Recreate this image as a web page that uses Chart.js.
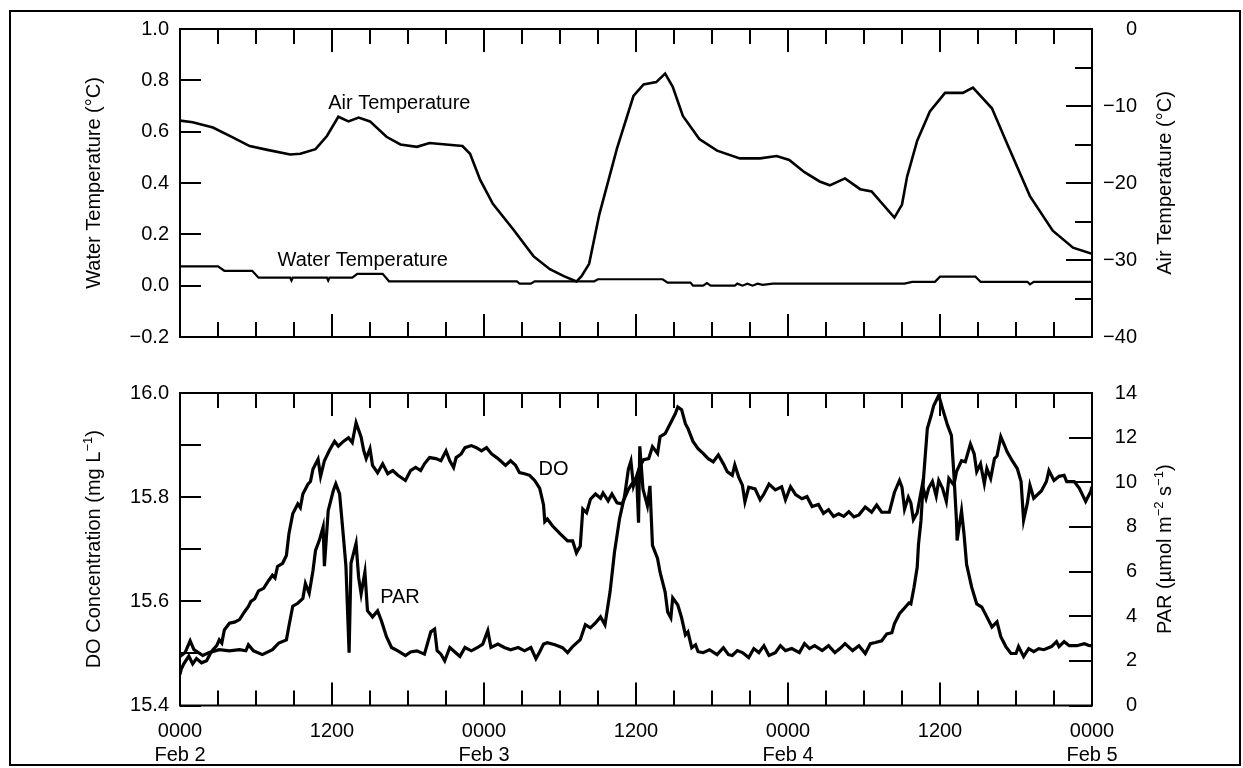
<!DOCTYPE html>
<html>
<head>
<meta charset="utf-8">
<script src="https://cdn.jsdelivr.net/npm/chart.js@4.4.1/dist/chart.umd.min.js"></script>
<style>
  body { margin: 0; background: #fff; }
  #frame { position: absolute; left: 9px; top: 10px; width: 1228px; height: 752px; border: 2px solid #000; }
  canvas { position: absolute; left: 0; }
  #tempChart { top: 0; }
  #doChart { top: 370px; }
</style>
</head>
<body>
<div id="frame"></div>
<canvas id="tempChart" width="1243" height="360"></canvas>
<canvas id="doChart" width="1243" height="398"></canvas>
<script>
// hours since 0000 Feb 2
const airHours = [0, 1, 2.6, 4.2, 5.5, 6.9, 8.7, 9.5, 10.7, 11.6, 12.5, 13.3, 14.1, 15, 16.3, 17.4, 18.7, 19.7, 21, 22.3, 22.9, 23.7, 24.7, 26.3, 27.9, 29.2, 30.3, 31.3, 31.7, 32.3, 33.1, 34.5, 35.8, 36.6, 37.6, 38.3, 38.9, 39.7, 41, 42.4, 44.2, 45.8, 47.1, 48.1, 49.3, 50.5, 51.3, 52.5, 53.7, 54.6, 56.4, 57, 57.4, 58.2, 59.2, 60.4, 61.8, 62.6, 64.1, 65.3, 67.1, 68.9, 70.5, 72];
const airTemp = [-11.9, -12.1, -12.8, -14.1, -15.2, -15.7, -16.3, -16.2, -15.6, -13.9, -11.4, -12.0, -11.5, -12.0, -14.0, -15.0, -15.3, -14.8, -15.0, -15.2, -16.2, -19.6, -22.7, -26.0, -29.5, -31.2, -32.1, -32.8, -32.1, -30.5, -24.1, -15.5, -8.7, -7.2, -6.9, -5.8, -7.5, -11.3, -14.3, -15.8, -16.8, -16.8, -16.5, -17.0, -18.6, -19.8, -20.3, -19.4, -20.8, -21.1, -24.5, -22.8, -19.2, -14.5, -10.7, -8.3, -8.3, -7.6, -10.3, -14.9, -21.7, -26.2, -28.4, -29.2];

const waterHours = [0, 3.0, 3.5, 5.7, 6.2, 8.7, 8.8, 8.9, 11.6, 11.7, 11.8, 13.6, 14.0, 16.0, 16.5, 26.6, 26.8, 27.7, 28.0, 32.7, 33.0, 38.1, 38.5, 40.3, 40.5, 41.3, 41.6, 41.9, 43.8, 44.0, 44.4, 44.8, 45.2, 45.6, 46.0, 46.8, 57.2, 57.8, 59.6, 60.0, 62.8, 63.0, 63.2, 66.9, 67.1, 67.4, 72];
const waterTemp = [0.075, 0.075, 0.058, 0.058, 0.031, 0.031, 0.02, 0.031, 0.031, 0.02, 0.031, 0.031, 0.046, 0.046, 0.017, 0.017, 0.008, 0.008, 0.017, 0.017, 0.025, 0.025, 0.012, 0.012, 0.0, 0.0, 0.01, 0.0, 0.0, 0.008, 0.0, 0.008, 0.0, 0.008, 0.003, 0.008, 0.008, 0.015, 0.015, 0.035, 0.035, 0.025, 0.015, 0.015, 0.005, 0.015, 0.015];

// [hour, mg/L]
const doReadings = [[0.0,15.46],[0.1,15.47],[0.3,15.48],[0.7,15.495],[1.0,15.48],[1.3,15.49],[1.7,15.482],[2.1,15.486],[2.4,15.5],[2.6,15.507],[2.9,15.515],[3.1,15.526],[3.3,15.52],[3.5,15.545],[3.9,15.558],[4.3,15.56],[4.7,15.565],[5.1,15.58],[5.4,15.59],[5.6,15.60],[5.9,15.605],[6.2,15.62],[6.6,15.625],[7.0,15.64],[7.3,15.65],[7.5,15.645],[7.7,15.667],[8.1,15.673],[8.4,15.688],[8.6,15.73],[8.9,15.768],[9.3,15.787],[9.5,15.78],[9.7,15.806],[10.1,15.825],[10.3,15.83],[10.5,15.854],[10.9,15.873],[11.1,15.84],[11.4,15.87],[11.8,15.89],[12.2,15.907],[12.5,15.898],[12.9,15.907],[13.3,15.914],[13.6,15.905],[13.9,15.943],[14.3,15.915],[14.5,15.89],[14.7,15.874],[15.0,15.893],[15.2,15.861],[15.6,15.847],[16.0,15.864],[16.4,15.845],[16.8,15.851],[17.2,15.842],[17.8,15.832],[18.2,15.851],[18.6,15.857],[19.0,15.851],[19.3,15.864],[19.7,15.876],[20.2,15.874],[20.6,15.87],[21.0,15.889],[21.3,15.87],[21.6,15.857],[21.8,15.876],[22.2,15.883],[22.5,15.895],[23.0,15.899],[23.4,15.895],[23.8,15.889],[24.2,15.895],[24.6,15.883],[25.0,15.876],[25.3,15.87],[25.7,15.861],[26.1,15.87],[26.5,15.861],[26.8,15.847],[27.2,15.845],[27.6,15.842],[28.0,15.832],[28.4,15.817],[28.7,15.785],[28.8,15.753],[29.0,15.758],[29.4,15.745],[30.0,15.73],[30.6,15.716],[31.0,15.716],[31.3,15.693],[31.6,15.706],[31.8,15.777],[32.1,15.77],[32.4,15.796],[32.8,15.806],[33.2,15.798],[33.4,15.808],[33.8,15.793],[34.1,15.806],[34.5,15.789],[34.9,15.787],[35.1,15.798],[35.4,15.815],[35.7,15.826],[36.1,15.836],[36.3,15.859],[36.6,15.872],[37.0,15.874],[37.3,15.897],[37.7,15.884],[37.9,15.916],[38.3,15.922],[38.7,15.941],[39.1,15.96],[39.3,15.973],[39.6,15.968],[39.9,15.941],[40.1,15.932],[40.5,15.907],[40.9,15.893],[41.3,15.884],[41.7,15.874],[42.1,15.868],[42.5,15.881],[42.9,15.864],[43.2,15.849],[43.6,15.842],[43.8,15.862],[44.1,15.839],[44.4,15.823],[44.6,15.791],[44.9,15.819],[45.4,15.816],[45.8,15.795],[46.1,15.806],[46.5,15.825],[47.0,15.814],[47.5,15.82],[47.8,15.795],[48.2,15.82],[48.6,15.805],[49.1,15.797],[49.5,15.801],[49.9,15.782],[50.4,15.786],[50.8,15.769],[51.2,15.776],[51.6,15.763],[52.0,15.768],[52.4,15.763],[52.8,15.772],[53.2,15.762],[53.6,15.766],[54.1,15.781],[54.6,15.771],[55.0,15.785],[55.4,15.771],[56.0,15.771],[56.4,15.809],[56.8,15.832],[57.0,15.819],[57.2,15.777],[57.5,15.8],[57.7,15.789],[57.9,15.757],[58.2,15.77],[58.6,15.823],[58.9,15.798],[59.1,15.817],[59.4,15.83],[59.7,15.802],[59.9,15.832],[60.2,15.817],[60.5,15.792],[60.7,15.836],[61.1,15.823],[61.3,15.849],[61.7,15.87],[62.0,15.868],[62.4,15.902],[62.7,15.883],[62.9,15.849],[63.2,15.864],[63.5,15.826],[63.7,15.855],[64.0,15.836],[64.3,15.874],[64.5,15.879],[64.8,15.916],[65.1,15.899],[65.3,15.887],[65.7,15.87],[66.1,15.855],[66.4,15.83],[66.6,15.756],[66.9,15.789],[67.1,15.823],[67.4,15.798],[68.0,15.812],[68.4,15.83],[68.6,15.851],[69.0,15.832],[69.4,15.84],[69.8,15.842],[70.0,15.83],[70.6,15.83],[71.0,15.817],[71.5,15.792],[71.9,15.811],[72.0,15.82]];

// [hour, umol m-2 s-1]
const parReadings = [[0.0,2.2],[0.4,2.37],[0.8,2.9],[1.1,2.5],[1.8,2.24],[2.3,2.37],[3.1,2.5],[3.9,2.45],[4.7,2.5],[5.2,2.45],[5.4,2.72],[5.8,2.45],[6.5,2.28],[7.3,2.5],[7.8,2.8],[8.4,2.94],[8.6,3.56],[8.9,4.45],[9.3,4.58],[9.7,4.8],[9.9,5.47],[10.2,5.03],[10.5,6.05],[10.7,6.95],[11.0,7.4],[11.3,8.0],[11.4,6.24],[11.7,8.73],[12.1,9.62],[12.3,9.93],[12.6,9.48],[12.9,7.57],[13.1,6.24],[13.35,2.37],[13.5,6.37],[13.9,7.26],[14.1,5.75],[14.3,5.0],[14.6,5.97],[14.8,4.25],[15.2,3.97],[15.6,4.24],[15.9,3.8],[16.3,3.08],[16.7,2.6],[17.2,2.45],[17.8,2.24],[18.2,2.4],[18.7,2.45],[19.3,2.3],[19.8,3.3],[20.1,3.42],[20.3,2.45],[20.6,2.3],[20.9,2.0],[21.3,2.6],[21.7,2.4],[22.1,2.2],[22.5,2.6],[23.0,2.45],[23.5,2.6],[23.9,2.75],[24.3,3.35],[24.55,2.6],[25.1,2.75],[25.6,2.6],[26.1,2.5],[26.7,2.6],[27.2,2.45],[27.7,2.6],[28.1,2.1],[28.4,2.41],[28.7,2.75],[29.0,2.81],[29.6,2.72],[30.2,2.59],[30.6,2.37],[31.0,2.64],[31.6,2.95],[32.0,3.62],[32.4,3.48],[32.8,3.7],[33.2,3.97],[33.55,3.62],[33.95,5.08],[34.3,6.86],[34.7,8.37],[35.1,9.39],[35.4,10.59],[35.6,10.95],[35.8,9.84],[36.05,10.28],[36.2,8.19],[36.3,11.61],[36.55,9.7],[36.9,8.95],[37.1,9.84],[37.3,7.17],[37.7,6.59],[37.9,5.97],[38.3,5.08],[38.5,4.19],[38.75,3.93],[38.9,4.82],[39.3,4.5],[39.6,3.93],[39.9,3.17],[40.1,3.3],[40.4,2.59],[40.7,2.72],[40.9,2.41],[41.3,2.37],[41.8,2.5],[42.4,2.28],[42.9,2.59],[43.3,2.28],[43.6,2.24],[44.0,2.46],[44.4,2.37],[44.9,2.15],[45.3,2.55],[45.7,2.37],[46.1,2.68],[46.5,2.24],[47.0,2.37],[47.4,2.68],[47.8,2.46],[48.3,2.55],[48.9,2.37],[49.3,2.77],[49.7,2.55],[50.1,2.68],[50.7,2.46],[51.2,2.68],[51.7,2.37],[52.1,2.55],[52.5,2.77],[53.1,2.46],[53.6,2.68],[54.1,2.33],[54.5,2.77],[54.9,2.82],[55.4,2.9],[55.8,3.21],[56.2,3.26],[56.4,3.66],[56.8,4.11],[57.2,4.37],[57.55,4.59],[57.7,4.55],[57.95,5.3],[58.2,6.19],[58.3,7.21],[58.5,8.28],[58.7,10.19],[59.0,12.41],[59.3,12.99],[59.5,13.43],[59.9,13.9],[60.2,13.3],[60.6,12.55],[60.9,12.1],[61.1,10.32],[61.3,8.28],[61.35,7.39],[61.7,8.72],[61.9,7.66],[62.1,6.32],[62.5,5.3],[62.9,4.55],[63.3,4.41],[63.7,3.97],[64.1,3.52],[64.5,3.75],[64.8,3.08],[65.2,2.64],[65.6,2.33],[66.0,2.33],[66.2,2.64],[66.6,2.19],[67.0,2.55],[67.4,2.41],[67.8,2.55],[68.2,2.5],[68.8,2.64],[69.2,2.86],[69.4,2.64],[69.8,2.86],[70.2,2.68],[70.8,2.68],[71.4,2.77],[71.8,2.68],[72.0,2.68]];

const xTickLabels = [["0000", "Feb 2"], "1200", ["0000", "Feb 3"], "1200", ["0000", "Feb 4"], "1200", ["0000", "Feb 5"]];

const FONT = "'Liberation Sans', Arial, Helvetica, sans-serif";
const INK = "#000";

function signed(v, digits) {
  const s = Math.abs(v).toFixed(digits);
  return (v < -1e-9 ? "\u2212" : "") + s;
}

function pairs(hours, values) {
  return hours.map((h, i) => ({ x: h, y: values[i] }));
}

// axis title with optional superscript pieces, reading bottom to top
function drawSideTitle(ctx, parts, cx, cy) {
  ctx.save();
  ctx.translate(cx, cy);
  ctx.rotate(-Math.PI / 2);
  ctx.fillStyle = INK;
  ctx.textBaseline = "middle";
  ctx.textAlign = "left";
  const big = "20px " + FONT, small = "13px " + FONT;
  let total = 0;
  parts.forEach(p => { ctx.font = p.sup ? small : big; total += ctx.measureText(p.text).width; });
  let x = -total / 2;
  parts.forEach(p => {
    ctx.font = p.sup ? small : big;
    ctx.fillText(p.text, x, p.sup ? -6 : 0);
    x += ctx.measureText(p.text).width;
  });
  ctx.restore();
}

// frame, inward tick marks, side titles and curve labels
const axisMarks = {
  id: "axisMarks",
  afterDatasetsDraw(chart, args, opts) {
    const { ctx, chartArea: a, scales } = chart;
    ctx.save();
    ctx.strokeStyle = INK;
    ctx.lineWidth = 2;
    ctx.beginPath();
    for (let h = 0; h <= 72; h += 3) {
      const px = Math.round(scales.x.getPixelForValue(h));
      const len = h % 12 === 0 ? 23 : 15;
      ctx.moveTo(px, a.top); ctx.lineTo(px, a.top + len);
      ctx.moveTo(px, a.bottom); ctx.lineTo(px, a.bottom - len);
    }
    opts.sides.forEach(side => {
      const sc = scales[side.id];
      const n = Math.round((sc.max - sc.min) / side.step);
      for (let i = 0; i <= n; i++) {
        const v = sc.min + i * side.step;
        const py = Math.round(sc.getPixelForValue(v));
        const q = side.major ? v / side.major : 0.5;
        const len = side.major && Math.abs(q - Math.round(q)) < 1e-6 ? side.majorLen : side.len;
        if (sc.position === "left") { ctx.moveTo(a.left, py); ctx.lineTo(a.left + len, py); }
        else { ctx.moveTo(a.right, py); ctx.lineTo(a.right - len, py); }
      }
    });
    ctx.stroke();
    ctx.strokeRect(a.left, a.top, a.right - a.left, a.bottom - a.top);

    const midY = (a.top + a.bottom) / 2;
    drawSideTitle(ctx, opts.leftTitle, 94, midY);
    drawSideTitle(ctx, opts.rightTitle, 1165, midY);

    ctx.fillStyle = INK;
    ctx.font = "20px " + FONT;
    ctx.textAlign = "left";
    ctx.textBaseline = "middle";
    opts.notes.forEach(n => {
      ctx.fillText(n.text, scales.x.getPixelForValue(n.x), scales[n.axis].getPixelForValue(n.y));
    });
    ctx.restore();
  }
};

function yAxis(position, min, max, step, digits, width, padding) {
  return {
    position, min, max,
    grid: { display: false, drawTicks: false },
    border: { display: false },
    ticks: {
      stepSize: step,
      padding,
      color: INK,
      crossAlign: position === "right" ? "far" : "near",
      font: { family: FONT, size: 20 },
      callback: v => signed(v, digits)
    },
    afterFit: s => { s.width = width; }
  };
}

function xAxis(showLabels, height) {
  return {
    type: "linear",
    min: 0, max: 72,
    grid: { display: false, drawTicks: false },
    border: { display: false },
    ticks: {
      display: showLabels,
      stepSize: 12,
      padding: 14,
      color: INK,
      maxRotation: 0,
      font: { family: FONT, size: 20 },
      callback: v => xTickLabels[Math.round(v / 12)]
    },
    afterFit: s => { s.height = height; }
  };
}

const lineStyle = { borderColor: INK, pointRadius: 0, tension: 0, fill: false };

// right-hand labels end 45px past the plot edge; the side title sits in the padding
const plotPadding = { left: 0, right: 106, bottom: 0 };

new Chart(document.getElementById("tempChart"), {
  type: "line",
  data: {
    datasets: [
      { ...lineStyle, label: "Air Temperature", data: pairs(airHours, airTemp), yAxisID: "yAir", borderWidth: 2.6 },
      { ...lineStyle, label: "Water Temperature", data: pairs(waterHours, waterTemp), yAxisID: "yWater", borderWidth: 2.2 }
    ]
  },
  options: {
    responsive: false,
    animation: false,
    layout: { padding: { ...plotPadding, top: 29 } },
    scales: {
      x: xAxis(false, 17.5),
      yWater: yAxis("left", -0.2, 1.0, 0.2, 1, 180, 11),
      yAir: yAxis("right", -40, 0, 10, 0, 45, 0)
    },
    plugins: {
      legend: { display: false },
      tooltip: { enabled: false },
      axisMarks: {
        sides: [
          { id: "yWater", step: 0.2, len: 21 },
          { id: "yAir", step: 5, major: 10, len: 17, majorLen: 26 }
        ],
        leftTitle: [{ text: "Water Temperature (\u00B0C)" }],
        rightTitle: [{ text: "Air Temperature (\u00B0C)" }],
        notes: [
          { text: "Air Temperature", x: 11.7, y: -9.7, axis: "yAir" },
          { text: "Water Temperature", x: 7.7, y: 0.1, axis: "yWater" }
        ]
      }
    }
  },
  plugins: [axisMarks]
});

new Chart(document.getElementById("doChart"), {
  type: "line",
  data: {
    datasets: [
      { ...lineStyle, label: "DO", data: doReadings.map(([x, y]) => ({ x, y })), yAxisID: "yDO", borderWidth: 3.2 },
      { ...lineStyle, label: "PAR", data: parReadings.map(([x, y]) => ({ x, y })), yAxisID: "yPAR", borderWidth: 3.2 }
    ]
  },
  options: {
    responsive: false,
    animation: false,
    layout: { padding: { ...plotPadding, top: 21 } },
    scales: {
      x: xAxis(true, 62.5),
      yDO: yAxis("left", 15.4, 16.0, 0.2, 1, 180, 11),
      yPAR: yAxis("right", 0, 14, 2, 0, 45, 0)
    },
    plugins: {
      legend: { display: false },
      tooltip: { enabled: false },
      axisMarks: {
        sides: [
          { id: "yDO", step: 0.1, len: 21 },
          { id: "yPAR", step: 2, len: 23 }
        ],
        leftTitle: [{ text: "DO Concentration (mg L" }, { text: "\u22121", sup: true }, { text: ")" }],
        rightTitle: [{ text: "PAR (\u00B5mol m" }, { text: "\u22122", sup: true }, { text: " s" }, { text: "\u22121", sup: true }, { text: ")" }],
        notes: [
          { text: "DO", x: 28.3, y: 15.854, axis: "yDO" },
          { text: "PAR", x: 15.8, y: 4.85, axis: "yPAR" }
        ]
      }
    }
  },
  plugins: [axisMarks]
});
</script>
</body>
</html>
